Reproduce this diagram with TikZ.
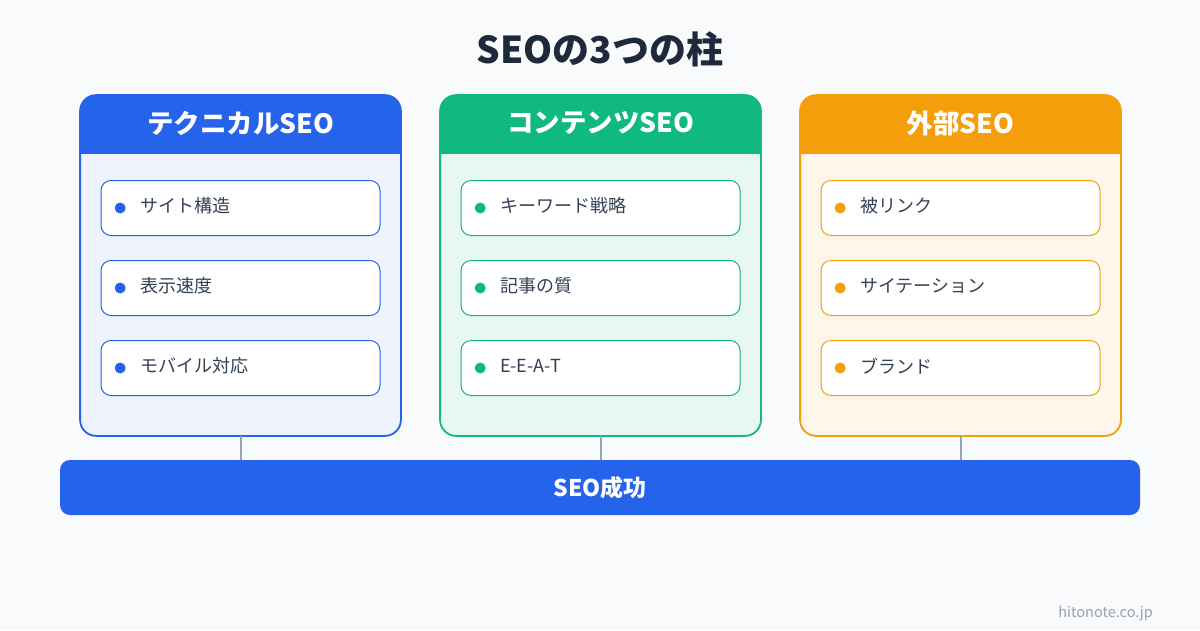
\documentclass[tikz,border=0pt]{standalone}
\usepackage{fontspec}
\setmainfont{Noto Sans CJK JP}
\usetikzlibrary{positioning}
\definecolor{seobg}{HTML}{F8FAFC}
\definecolor{seoblue}{HTML}{2563EB}
\definecolor{seogreen}{HTML}{10B981}
\definecolor{seoorange}{HTML}{F59E0B}
\definecolor{seobluebg}{HTML}{EEF3FD}
\definecolor{seogreenbg}{HTML}{E8F7F1}
\definecolor{seoorangebg}{HTML}{FEF6EA}
\definecolor{seotitle}{HTML}{1E293B}
\definecolor{seoitem}{HTML}{334155}
\definecolor{seogray}{HTML}{94A3B8}

\begin{document}
\begin{tikzpicture}[
    x=1pt, y=-1pt,
    pillar/.style={rectangle, rounded corners=16pt, line width=1.8pt, minimum width=319pt, minimum height=339pt, inner sep=0pt},
    headtext/.style={font=\fontsize{26.5}{31}\selectfont\bfseries, text=white, inner sep=0pt},
    itembox/.style={rectangle, rounded corners=10pt, fill=white, line width=1pt, minimum width=279pt, minimum height=55pt, inner sep=0pt},
    bullet/.style={circle, minimum size=11pt, inner sep=0pt},
    itemtext/.style={font=\fontsize{18}{21}\selectfont, text=seoitem, inner sep=0pt, anchor=west},
    link/.style={draw=seogray, line width=2pt},
    goalbar/.style={rectangle, rounded corners=10pt, fill=seoblue, minimum width=1080pt, minimum height=55pt, font=\fontsize{23}{27}\selectfont\bfseries, text=white}
]
    \useasboundingbox[fill=seobg] (0,0) rectangle (1200,630);

    % Title
    \node[font=\fontsize{37}{44}\selectfont\bfseries, text=seotitle] (title) at (600,49) {SEOの3つの柱};

    % Pillar 1 - technical
    \node[pillar, fill=seobluebg] (techcol) at (240.5,265.5) {};
    \begin{scope}
        \clip[rounded corners=16pt] (techcol.north west) rectangle (techcol.south east);
        \fill[seoblue] (techcol.north west) rectangle ([yshift=-59pt]techcol.north east);
    \end{scope}
    \draw[seoblue, line width=1.8pt, rounded corners=16pt] (techcol.north west) rectangle (techcol.south east);
    \node[headtext] (techhead) at (240.5,123) {テクニカルSEO};

    \node[itembox, draw=seoblue] (tech1) at (240.5,208) {};
    \node[bullet, fill=seoblue, right=14pt of tech1.west] (techdot1) {};
    \node[itemtext, right=14pt of techdot1, yshift=2pt] (techtext1) {サイト構造};
    \node[itembox, draw=seoblue] (tech2) at (240.5,288) {};
    \node[bullet, fill=seoblue, right=14pt of tech2.west] (techdot2) {};
    \node[itemtext, right=14pt of techdot2, yshift=2pt] (techtext2) {表示速度};
    \node[itembox, draw=seoblue] (tech3) at (240.5,368) {};
    \node[bullet, fill=seoblue, right=14pt of tech3.west] (techdot3) {};
    \node[itemtext, right=14pt of techdot3, yshift=2pt] (techtext3) {モバイル対応};

    % Pillar 2 - content
    \node[pillar, fill=seogreenbg] (contcol) at (600.5,265.5) {};
    \begin{scope}
        \clip[rounded corners=16pt] (contcol.north west) rectangle (contcol.south east);
        \fill[seogreen] (contcol.north west) rectangle ([yshift=-59pt]contcol.north east);
    \end{scope}
    \draw[seogreen, line width=1.8pt, rounded corners=16pt] (contcol.north west) rectangle (contcol.south east);
    \node[headtext] (conthead) at (600.5,123) {コンテンツSEO};

    \node[itembox, draw=seogreen] (cont1) at (600.5,208) {};
    \node[bullet, fill=seogreen, right=14pt of cont1.west] (contdot1) {};
    \node[itemtext, right=14pt of contdot1, yshift=2pt] (conttext1) {キーワード戦略};
    \node[itembox, draw=seogreen] (cont2) at (600.5,288) {};
    \node[bullet, fill=seogreen, right=14pt of cont2.west] (contdot2) {};
    \node[itemtext, right=14pt of contdot2, yshift=2pt] (conttext2) {記事の質};
    \node[itembox, draw=seogreen] (cont3) at (600.5,368) {};
    \node[bullet, fill=seogreen, right=14pt of cont3.west] (contdot3) {};
    \node[itemtext, right=14pt of contdot3, yshift=2pt] (conttext3) {E-E-A-T};

    % Pillar 3 - external
    \node[pillar, fill=seoorangebg] (extcol) at (960.5,265.5) {};
    \begin{scope}
        \clip[rounded corners=16pt] (extcol.north west) rectangle (extcol.south east);
        \fill[seoorange] (extcol.north west) rectangle ([yshift=-59pt]extcol.north east);
    \end{scope}
    \draw[seoorange, line width=1.8pt, rounded corners=16pt] (extcol.north west) rectangle (extcol.south east);
    \node[headtext] (exthead) at (960.5,123) {外部SEO};

    \node[itembox, draw=seoorange] (ext1) at (960.5,208) {};
    \node[bullet, fill=seoorange, right=14pt of ext1.west] (extdot1) {};
    \node[itemtext, right=14pt of extdot1, yshift=2pt] (exttext1) {被リンク};
    \node[itembox, draw=seoorange] (ext2) at (960.5,288) {};
    \node[bullet, fill=seoorange, right=14pt of ext2.west] (extdot2) {};
    \node[itemtext, right=14pt of extdot2, yshift=2pt] (exttext2) {サイテーション};
    \node[itembox, draw=seoorange] (ext3) at (960.5,368) {};
    \node[bullet, fill=seoorange, right=14pt of ext3.west] (extdot3) {};
    \node[itemtext, right=14pt of extdot3, yshift=2pt] (exttext3) {ブランド};

    % Goal bar
    \node[goalbar] (goal) at (600,487.5) {SEO成功};

    % Connections
    \draw[link] (techcol.south) -- (techcol.south |- goal.north);
    \draw[link] (contcol.south) -- (contcol.south |- goal.north);
    \draw[link] (extcol.south) -- (extcol.south |- goal.north);

    % Footer
    \node[font=\fontsize{14.5}{17}\selectfont, text=seogray, anchor=east, inner sep=0pt] (site) at (1153,613) {hitonote.co.jp};
\end{tikzpicture}
\end{document}
